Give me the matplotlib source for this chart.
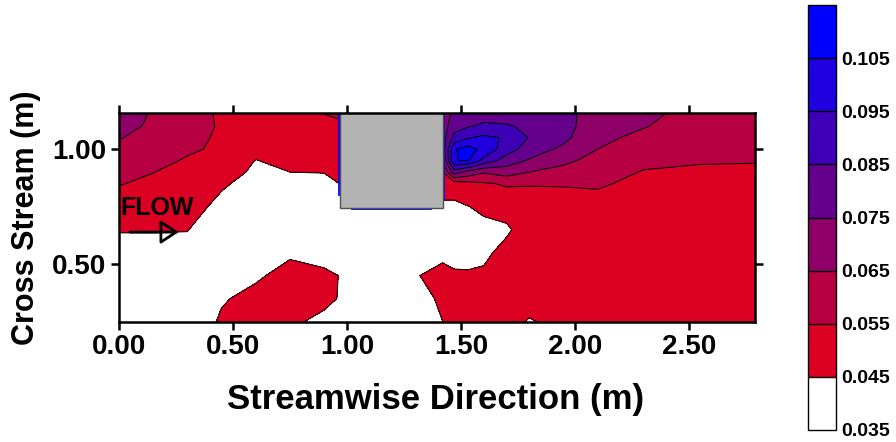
import numpy as np
import matplotlib
matplotlib.use("Agg")
import matplotlib.pyplot as plt
from matplotlib.patches import Rectangle

plt.rcParams['font.family'] = ['Liberation Sans', 'DejaVu Sans']
plt.rcParams['font.weight'] = 'bold'

# ---------------- data ----------------
x_pos = [0.00, 0.15, 0.30, 0.45, 0.60, 0.75, 0.90, 0.97, 1.20, 1.42,
         1.47, 1.53, 1.60, 1.70, 1.80, 1.95, 2.10, 2.30, 2.55, 2.79]
y_pos = [0.25, 0.35, 0.45, 0.55, 0.65, 0.75, 0.85, 0.90, 0.95, 1.00, 1.05, 1.10, 1.157]
nan = np.nan
# one row per y_pos, one value per x_pos (nan = inside obstacle)
z_rows = [
    [0.036, 0.036, 0.037, 0.0465, 0.049, 0.0465, 0.043, 0.042, 0.040, 0.045, 0.048, 0.050, 0.051, 0.050, 0.044, 0.049, 0.050, 0.051, 0.051, 0.050],
    [0.038, 0.038, 0.039, 0.044, 0.048, 0.049, 0.047, 0.0445, 0.040, 0.046, 0.049, 0.050, 0.051, 0.051, 0.050, 0.050, 0.051, 0.051, 0.051, 0.051],
    [0.040, 0.040, 0.041, 0.041, 0.0435, 0.0485, 0.0465, 0.0448, 0.039, 0.050, 0.047, 0.046, 0.0465, 0.050, 0.051, 0.051, 0.051, 0.051, 0.051, 0.051],
    [0.042, 0.042, 0.043, 0.040, 0.041, 0.0435, 0.042, 0.041, 0.038, 0.041, 0.040, 0.042, 0.043, 0.048, 0.051, 0.051, 0.051, 0.051, 0.051, 0.051],
    [0.0455, 0.0455, 0.0452, 0.041, 0.039, 0.040, 0.039, 0.039, 0.038, 0.039, 0.039, 0.040, 0.043, 0.0435, 0.050, 0.051, 0.051, 0.051, 0.051, 0.051],
    [0.050, 0.049, 0.048, 0.043, 0.039, 0.039, 0.039, 0.039, 0.039, 0.043, 0.043, 0.0448, 0.0465, 0.049, 0.051, 0.052, 0.052, 0.052, 0.052, 0.052],
    [0.0555, 0.053, 0.051, 0.046, 0.0423, 0.042, 0.042, 0.0452, nan, 0.050, 0.050, 0.052, 0.054, 0.056, 0.0555, 0.0555, 0.056, 0.053, 0.053, 0.053],
    [0.058, 0.0552, 0.052, 0.048, 0.0438, 0.045, 0.0453, 0.048, nan, 0.054, 0.080, 0.072, 0.066, 0.070, 0.065, 0.062, 0.059, 0.0545, 0.054, 0.054],
    [0.060, 0.058, 0.054, 0.050, 0.0448, 0.047, 0.048, 0.050, nan, 0.066, 0.1045, 0.106, 0.092, 0.080, 0.074, 0.067, 0.062, 0.057, 0.0555, 0.0553],
    [0.063, 0.060, 0.0565, 0.0533, 0.047, 0.049, 0.050, 0.051, nan, 0.069, 0.104, 0.109, 0.102, 0.090, 0.080, 0.073, 0.065, 0.060, 0.057, 0.057],
    [0.0655, 0.062, 0.058, 0.0535, 0.050, 0.050, 0.052, 0.052, nan, 0.070, 0.088, 0.094, 0.097, 0.094, 0.0845, 0.0775, 0.067, 0.063, 0.059, 0.059],
    [0.068, 0.0635, 0.059, 0.054, 0.051, 0.051, 0.053, 0.054, nan, 0.070, 0.081, 0.084, 0.087, 0.086, 0.083, 0.079, 0.068, 0.0655, 0.061, 0.060],
    [0.071, 0.064, 0.0595, 0.0534, 0.052, 0.052, 0.0552, 0.056, nan, 0.070, 0.077, 0.079, 0.080, 0.080, 0.080, 0.079, 0.069, 0.067, 0.062, 0.061],
]
levels = [0.035, 0.045, 0.055, 0.065, 0.075, 0.085, 0.095, 0.105, 0.115]
fill_colors = ['#FFFFFF', '#DC0023', '#B60042', '#8E0068', '#64008C', '#3E00B6', '#2000DE', '#0000FF']
cbar_ticks = [0.035, 0.045, 0.055, 0.065, 0.075, 0.085, 0.095, 0.105]
x_ticks = [0.0, 0.5, 1.0, 1.5, 2.0, 2.5]
y_ticks = [0.5, 1.0]
x_lim = (0.0, 2.79)
y_lim = (0.248, 1.157)

# obstacle (m)
obs_x0, obs_x1, obs_y0 = 0.97, 1.42, 0.743
obs_blue_left_y, obs_blue_right_y = 0.80, 0.78
obs_blue_bottom = (1.02, 1.37)

# annotation
flow_text_pos = (0.005, 0.713)
arrow_start, arrow_end = (0.048, 0.639), (0.262, 0.639)

# ---------------- figure ----------------
fig = plt.figure(figsize=(8.96, 4.42), dpi=100)
ax = fig.add_axes([119/896, 120/442, 636/896, 209/442])

X, Y = np.meshgrid(x_pos, y_pos)
Z = np.ma.masked_invalid(np.array(z_rows))

cf = ax.contourf(X, Y, Z, levels=levels, colors=fill_colors, zorder=1)
ax.contour(X, Y, Z, levels=levels[1:-1], colors='black', linewidths=0.7, zorder=2)

# blue blanking outline
ax.plot([obs_x0 - 0.004, obs_x0 - 0.004], [obs_blue_left_y, y_lim[1]], color='#0000FF', lw=1.3, zorder=2.5)
ax.plot([obs_x1 + 0.004, obs_x1 + 0.004], [obs_blue_right_y, y_lim[1]], color='#0000FF', lw=1.3, zorder=2.5)
ax.plot(list(obs_blue_bottom), [obs_y0 - 0.004, obs_y0 - 0.004], color='#0000FF', lw=1.3, zorder=2.5)

ax.add_patch(Rectangle((obs_x0, obs_y0), obs_x1 - obs_x0, 0.5,
                       facecolor='#B3B3B3', edgecolor='#505050', lw=1.0, zorder=3))

ax.text(flow_text_pos[0], flow_text_pos[1], 'FLOW', fontsize=18, fontweight='bold',
        ha='left', va='baseline', zorder=5)
ax.annotate('', xy=arrow_end, xytext=arrow_start,
            arrowprops=dict(arrowstyle='-|>,head_length=0.55,head_width=0.36',
                            fc='none', ec='black', lw=2, mutation_scale=20,
                            shrinkA=0, shrinkB=0), zorder=5)

ax.set_xlim(*x_lim)
ax.set_ylim(*y_lim)
ax.set_xticks(x_ticks)
ax.set_yticks(y_ticks)
ax.set_xticklabels([f'{v:.2f}' for v in x_ticks])
ax.set_yticklabels([f'{v:.2f}' for v in y_ticks])
ax.tick_params(which='both', direction='out', length=6, width=1.8,
               top=True, right=True, labelsize=20, pad=3)
for lab in ax.get_xticklabels() + ax.get_yticklabels():
    lab.set_fontweight('bold')
for sp in ax.spines.values():
    sp.set_linewidth(1.8)
    sp.set_zorder(6)

ax.set_xlabel('Streamwise Direction (m)', fontsize=25, fontweight='bold')
ax.set_ylabel('Cross Stream (m)', fontsize=22, fontweight='bold')
ax.xaxis.set_label_coords(0.497, -0.29)
ax.yaxis.set_label_coords(-0.123, 0.5)

# colorbar
cax = fig.add_axes([808/896, 12/442, 28/896, 425/442])
cb = fig.colorbar(cf, cax=cax, ticks=cbar_ticks, drawedges=True)
cb.dividers.set_color('black')
cb.dividers.set_linewidth(1.0)
cb.outline.set_linewidth(1.0)
cb.ax.set_yticklabels([f'{v:.3f}' for v in cbar_ticks])
cax.tick_params(length=0, labelsize=14, pad=4)
for lab in cax.get_yticklabels():
    lab.set_fontweight('bold')

fig.savefig('out.png', dpi=100)
